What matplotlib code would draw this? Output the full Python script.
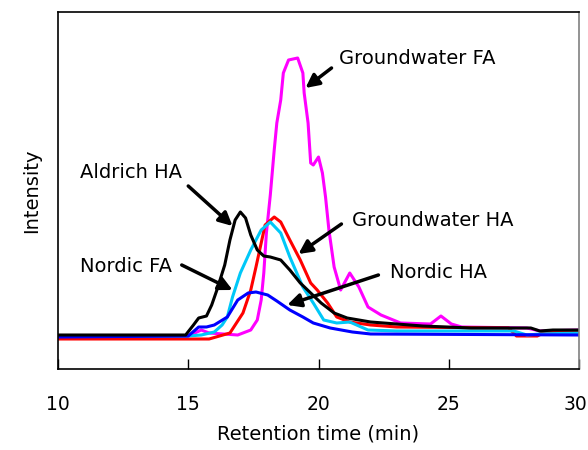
import matplotlib
matplotlib.use("Agg")
import matplotlib.pyplot as plt
from matplotlib.transforms import ScaledTranslation

# retention time (min) and intensity (arbitrary units)
gw_fa_t = [10, 15.0, 15.5, 15.8, 16.9, 17.4, 17.65, 17.8, 17.9, 18.0, 18.15, 18.3, 18.4,
           18.55, 18.65, 18.85, 19.2, 19.4, 19.45, 19.6, 19.7, 19.8, 20.0, 20.15, 20.27,
           20.4, 20.6, 20.85, 21.2, 21.55, 21.9, 22.4, 23.15, 24.3, 24.7, 25.1, 25.5,
           28.0, 28.5, 30]
gw_fa_i = [32, 33, 39, 36, 34, 39, 49, 69, 96, 136, 174, 219, 246, 269, 296, 309, 311,
           296, 276, 246, 206, 204, 212, 196, 172, 139, 102, 79, 96, 82, 62, 54, 46, 45,
           53, 45, 42, 41, 38, 39]

gw_ha_t = [10, 15.8, 16.2, 16.6, 17.1, 17.4, 17.6, 17.8, 17.95, 18.3, 18.55, 18.9, 19.3,
           19.7, 19.95, 20.35, 20.7, 21.2, 22, 23, 27.3, 27.6, 28.4, 28.7, 30]
gw_ha_i = [30, 30, 33, 36, 56, 79, 102, 126, 144, 152, 147, 129, 109, 86, 79, 66, 52,
           47, 44, 42, 41, 33, 33, 37, 37]

nordic_fa_t = [10, 15.0, 15.5, 16.0, 16.3, 16.5, 16.7, 17.0, 17.4, 17.8, 18.15, 18.55,
               18.9, 19.4, 19.8, 20.2, 20.7, 21.2, 21.9, 23, 27.5, 28.0, 28.5, 30]
nordic_fa_i = [33, 33, 34, 37, 44, 52, 72, 96, 119, 139, 147, 136, 112, 82, 66, 49, 46,
               47, 39, 38, 38, 34, 35, 36]

nordic_ha_t = [10, 15.0, 15.4, 15.7, 16.0, 16.5, 16.9, 17.3, 17.6, 18.05, 18.4, 18.9,
               19.4, 19.8, 20.45, 21.3, 22, 30]
nordic_ha_i = [32, 33, 42, 42, 44, 52, 69, 76, 77, 74, 68, 59, 52, 46, 41, 37, 35, 34]

aldrich_ha_t = [10, 14.9, 15.2, 15.4, 15.7, 15.9, 16.1, 16.4, 16.6, 16.8, 17.0, 17.2,
                17.4, 17.65, 17.9, 18.15, 18.55, 18.9, 19.3, 19.7, 20.1, 20.6, 21.1, 22,
                23, 24, 25.85, 28.15, 28.5, 29, 30]
aldrich_ha_i = [34, 34, 44, 51, 53, 64, 79, 104, 129, 149, 157, 151, 134, 119, 113, 112,
                109, 99, 86, 76, 66, 56, 51, 47, 45, 43, 41, 41, 38, 39, 39]

x_ticks = [10, 15, 20, 25, 30]

fig = plt.figure(figsize=(5.88, 4.5), dpi=100)
ax = fig.add_axes([58 / 588, 81 / 450, 521 / 588, 357 / 450])

lw = 2.2
ax.plot(gw_fa_t, gw_fa_i, color="#FF00FF", lw=lw)
ax.plot(gw_ha_t, gw_ha_i, color="#FF0000", lw=lw)
ax.plot(nordic_fa_t, nordic_fa_i, color="#00C8F8", lw=lw)
ax.plot(nordic_ha_t, nordic_ha_i, color="#0000FF", lw=lw)
ax.plot(aldrich_ha_t, aldrich_ha_i, color="black", lw=lw)

ax.set_xlim(10, 30)
ax.set_ylim(0, 357)
ax.set_xticks(x_ticks)
ax.set_yticks([])
ax.tick_params(axis="x", direction="in", length=7, width=1, pad=19, labelsize=13.5)
for s in ax.spines.values():
    s.set_linewidth(1.2)
ax.spines["right"].set_color("#808080")

# keep the last tick label inside the canvas
last = ax.get_xticklabels()[-1]
last.set_transform(last.get_transform() + ScaledTranslation(-4 / 100, 0, fig.dpi_scale_trans))

ax.set_xlabel("Retention time (min)", fontsize=14, labelpad=7)
ax.set_ylabel("Intensity", fontsize=14, labelpad=12)

arrow = dict(arrowstyle="-|>,head_length=0.8,head_width=0.4", color="black", lw=2.5,
             shrinkA=0, shrinkB=0)
labels = [
    ("Groundwater FA", (19.5, 281), (20.5, 301), (20.8, 311)),
    ("Aldrich HA", (16.7, 143), (15.0, 183), (10.85, 197)),
    ("Nordic FA", (16.7, 79), (14.75, 104), (10.85, 103)),
    ("Groundwater HA", (19.23, 115), (20.88, 145), (21.3, 148)),
    ("Nordic HA", (18.8, 64), (22.3, 94), (22.75, 96)),
]
for name, head, tail, txt in labels:
    ax.annotate("", xy=head, xytext=tail, arrowprops=arrow)
    ax.text(txt[0], txt[1], name, fontsize=14, ha="left", va="center")

fig.savefig("out.png", dpi=100)
